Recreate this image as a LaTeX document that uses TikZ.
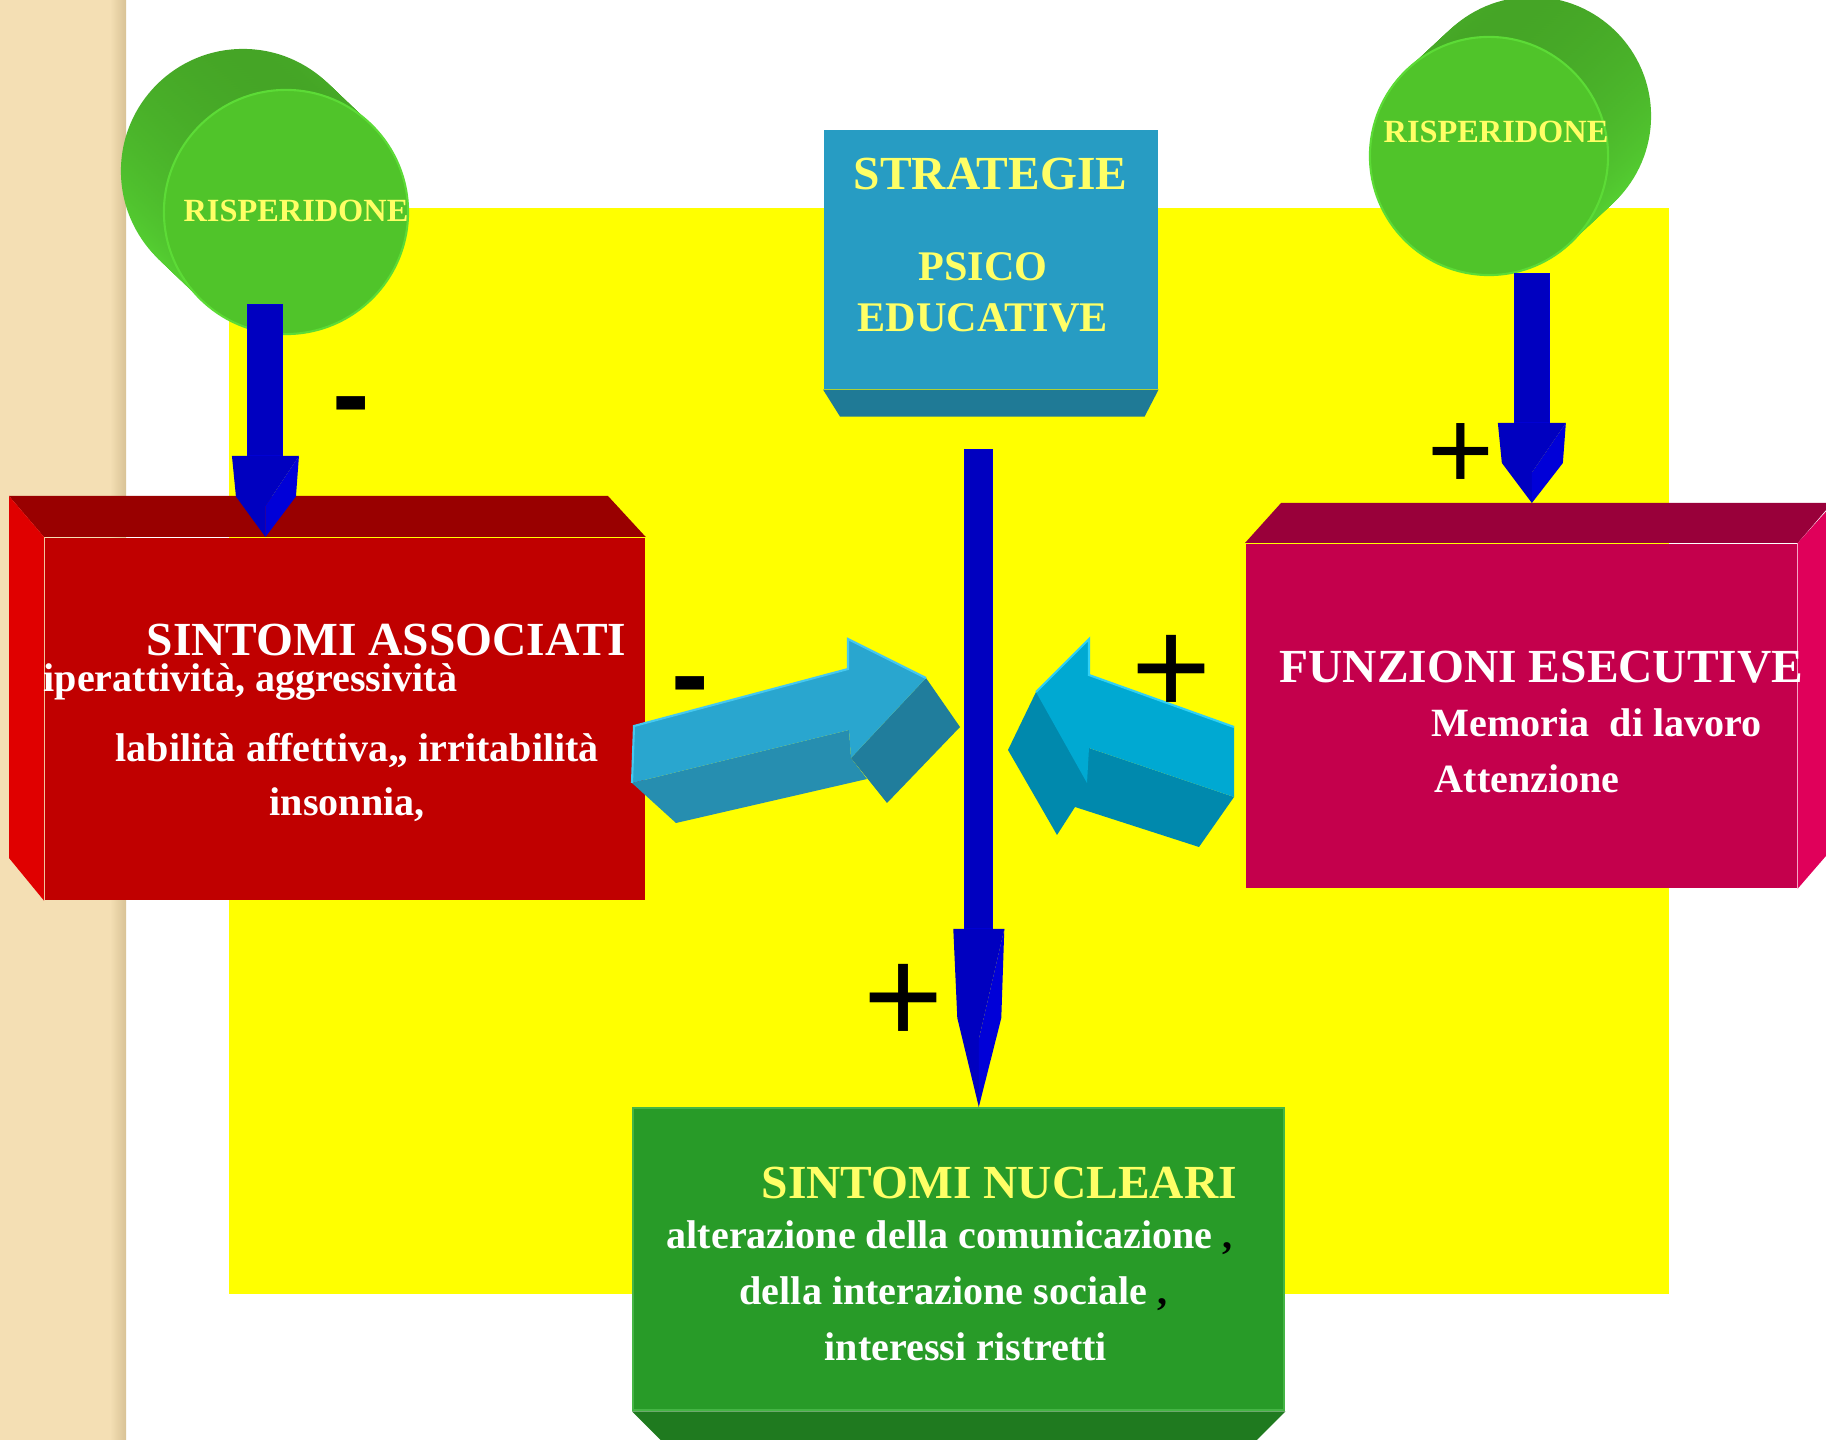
\documentclass[tikz,border=0pt]{standalone}
\usepackage{fontspec}
\setmainfont{Liberation Serif}
\newfontfamily\signfont{Liberation Sans}
\usepackage{tikz}
\usetikzlibrary{calc,positioning}

\definecolor{strip}{HTML}{F4DFB4}
\definecolor{stripedge}{HTML}{D8C295}
\definecolor{backyellow}{HTML}{FFFF00}
\definecolor{pillfront}{HTML}{50C42A}
\definecolor{pilldark}{HTML}{45A526}
\definecolor{pilllight}{HTML}{58D834}
\definecolor{pillrim}{HTML}{5CDB36}
\definecolor{redfront}{HTML}{C00000}
\definecolor{redtop}{HTML}{990000}
\definecolor{redside}{HTML}{E00000}
\definecolor{magfront}{HTML}{C4004C}
\definecolor{magtop}{HTML}{99003A}
\definecolor{magside}{HTML}{E0005A}
\definecolor{tealfront}{HTML}{279CC3}
\definecolor{tealbottom}{HTML}{1F7A96}
\definecolor{greenfront}{HTML}{289B28}
\definecolor{greenedge}{HTML}{45B545}
\definecolor{greenbottom}{HTML}{1F7A1F}
\definecolor{pale}{HTML}{FFFF66}
\definecolor{arrowblue}{HTML}{0000C0}
\definecolor{arrowbluelt}{HTML}{0000D8}
\definecolor{skyfront}{HTML}{29A6CF}
\definecolor{skybottom}{HTML}{268EB0}
\definecolor{skyside}{HTML}{207D9C}
\definecolor{skyedge}{HTML}{45C8F0}
\definecolor{cyanfront}{HTML}{00A9D2}
\definecolor{cyandark}{HTML}{0089AD}
\definecolor{cyanedge}{HTML}{30D0F5}

\newcommand{\titlesize}{\fontsize{13.5pt}{16pt}\selectfont\bfseries}
\newcommand{\midsize}{\fontsize{12pt}{14pt}\selectfont\bfseries}
\newcommand{\linesize}{\fontsize{11.4pt}{14pt}\selectfont\bfseries}
\newcommand{\pillsize}{\fontsize{9.2pt}{11pt}\selectfont\bfseries}

% 3d arrow pointing down: start, tip, shaft half width, head half width, head length
\newcommand{\fatdown}[5]{
  \fill[arrowblue,draw=arrowbluelt,line width=0.3pt] ($(#1)+(-#3,0)$) rectangle ($(#2)+(#3,-#5)$);
  \fill[arrowblue] ($(#2)+(-#4,-#5)$) -- ($(#2)+(#4,-#5)$) -- ($(#2)+(0,-0.38*#5)$) -- (#2) -- ($(#2)+(-#4+4,-0.5*#5)$) -- cycle;
  \fill[arrowbluelt] ($(#2)+(#4,-#5)$) -- ($(#2)+(#4-3,-0.5*#5)$) -- (#2) -- ($(#2)+(0,-0.38*#5)$) -- cycle;
}

\begin{document}
\begin{tikzpicture}[x=0.01cm,y=-0.01cm]
  \tikzstyle{face}=[rectangle,inner sep=0pt,anchor=north west]
  \tikzstyle{pill}=[circle,inner sep=0pt,minimum size=2.44cm,fill=pillfront,draw=pillrim,line width=0.6pt]
  \tikzstyle{txt}=[anchor=base west,inner sep=0pt,text=white]
  \tikzstyle{sign}=[anchor=base,inner sep=0pt]

  \useasboundingbox (0,0) rectangle (1826,1440);
  \fill[white] (0,0) rectangle (1826,1440);
  \fill[strip] (0,0) rectangle (126,1440);
  \shade[left color=strip,right color=stripedge] (110,0) rectangle (126,1440);
  \fill[backyellow] (229,208) rectangle (1669,1294);

  % the two pills
  \foreach \t in {0,0.05,...,1}
    \shade[top color=pilldark,bottom color=pilllight] ($(243,171)!\t!(286,212)$) circle (1.22cm);
  \node[pill] (risp1) at (286,212) {};
  \foreach \t in {0,0.05,...,1}
    \shade[top color=pilldark,bottom color=pilllight] ($(1532,116)!\t!(1489,156)$) circle (1.19cm);
  \node[pill,minimum size=2.38cm] (risp2) at (1489,156) {};

  % boxes
  \node[face,fill=tealfront,minimum width=3.34cm,minimum height=2.59cm] (strat) at (823,129) {};
  \fill[tealbottom] (strat.south west) -- (strat.south east) -- ++(-14,27) -- ($(strat.south west)+(17,27)$) -- cycle;

  \node[face,fill=redfront,minimum width=6cm,minimum height=3.62cm] (assoc) at (44,537) {};
  \fill[redtop] (assoc.north west) -- ++(-35,-41) -- ++(599,0) -- (assoc.north east) -- cycle;
  \fill[redside] (assoc.north west) -- ++(-35,-41) -- ++(0,362) -- (assoc.south west) -- cycle;

  \node[face,fill=magfront,minimum width=5.51cm,minimum height=3.44cm] (esec) at (1245,543) {};
  \fill[magtop] (esec.north west) -- ++(36,-40) -- ++(551,0) -- (esec.north east) -- cycle;
  \fill[magside] (esec.north east) -- ++(36,-40) -- ++(0,344) -- (esec.south east) -- cycle;

  \node[face,fill=greenfront,draw=greenedge,line width=0.6pt,minimum width=6.51cm,minimum height=3.02cm] (nucl) at (632,1107) {};
  \fill[greenbottom] (nucl.south west) -- (nucl.south east) -- ++(-45,45) -- ($(nucl.south west)+(45,45)$) -- cycle;

  % block arrows
  \fill[skybottom] (632,783) -- (849,730) -- (851,758) -- (867,779) -- (676,823) -- cycle;
  \fill[skyside] (851,758) -- (926,678) -- (960,727) -- (887,803) -- cycle;
  \fill[skyfront] (634,726) -- (848,669) -- (848,639) -- (926,678) -- (851,758) -- (849,730) -- (632,783) -- cycle;
  \draw[skyedge,line width=0.6pt] (632,783) -- (634,726) -- (848,669) -- (848,639) -- (926,678);

  \fill[cyandark] (1008,750) -- (1036,692) -- (1089,748) -- (1234,797) -- (1199,847) -- (1075,807) -- (1057,835) -- cycle;
  \fill[cyanfront] (1234,727) -- (1089,675) -- (1089,639) -- (1036,692) -- (1087,783) -- (1089,748) -- (1234,797) -- cycle;
  \draw[cyanedge,line width=0.6pt] (1234,727) -- (1089,675) -- (1089,639) -- (1036,692);

  % blue arrows
  \coordinate (a1e) at ($(assoc.north west)!0.368!(assoc.north east)$);
  \coordinate (a1s) at ($(a1e |- risp1.south)+(0,-31)$);
  \fatdown{a1s}{a1e}{17.5}{33.5}{81}
  \coordinate (a2e) at ($(esec.north west)!0.519!(esec.north east)+(0,-40)$);
  \coordinate (a2s) at ($(a2e |- risp2.south)+(0,-3)$);
  \fatdown{a2s}{a2e}{17.5}{34}{80}
  \coordinate (a3s) at ($(strat.south)+(-12,60)$);
  \coordinate (a3e) at (a3s |- nucl.north);
  \fatdown{a3s}{a3e}{14}{25.5}{178}

  % texts
  \node[anchor=base,inner sep=0pt,text=pale,font=\pillsize] (risp1txt) at (296,222) {RISPERIDONE};
  \node[anchor=base,inner sep=0pt,text=pale,font=\pillsize] (risp2txt) at (1496,143) {RISPERIDONE};

  \node[txt,text=pale,font=\titlesize] (strat1) at (853,190) {STRATEGIE};
  \node[txt,text=pale,font=\midsize] (strat2) at (918,281) {PSICO};
  \node[txt,text=pale,font=\midsize] (strat3) at (857,332) {EDUCATIVE};

  \node[txt,font=\titlesize] (assoc1) at (146,656) {SINTOMI ASSOCIATI};
  \node[txt,font=\linesize] (assoc2) at (43,692) {iperattività, aggressività};
  \node[txt,font=\linesize] (assoc3) at (115,762) {labilità affettiva,, irritabilità};
  \node[txt,font=\linesize] (assoc4) at (269,816) {insonnia,};

  \node[txt,font=\titlesize] (esec1) at (1279,683) {FUNZIONI ESECUTIVE};
  \node[txt,font=\linesize] (esec2) at (1431,737) {Memoria~ di lavoro};
  \node[txt,font=\linesize] (esec3) at (1434,793) {Attenzione};

  \node[txt,text=pale,font=\titlesize] (nucl1) at (761,1199) {SINTOMI NUCLEARI};
  \node[txt,font=\linesize] (nucl2) at (666,1249) {alterazione della comunicazione \textcolor{black}{,}};
  \node[txt,font=\linesize] (nucl3) at (739,1305) {della interazione sociale \textcolor{black}{,}};
  \node[txt,font=\linesize] (nucl4) at (824,1361) {interessi ristretti};

  % signs
  \node[sign,font=\signfont\bfseries\fontsize{32pt}{34pt}\selectfont] (minus1) at (351,433) {-};
  \node[sign,font=\signfont\bfseries\fontsize{32pt}{34pt}\selectfont] (minus2) at (690,713) {-};
  \node[sign,font=\signfont\fontsize{32.5pt}{34pt}\selectfont] (plus1) at (1461,490) {+};
  \node[sign,font=\signfont\fontsize{39pt}{41pt}\selectfont] (plus2) at (1172,715) {+};
  \node[sign,font=\signfont\fontsize{39pt}{41pt}\selectfont] (plus3) at (904,1044) {+};

\end{tikzpicture}
\end{document}
